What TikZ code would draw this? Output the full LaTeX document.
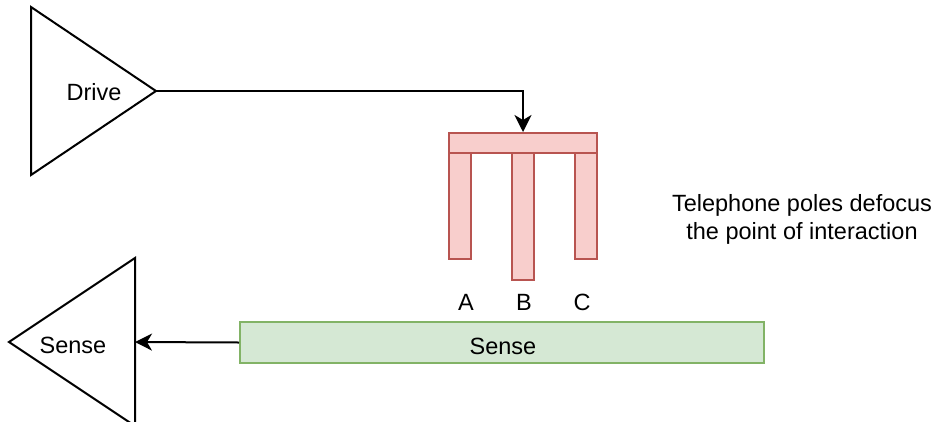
\documentclass[tikz,border=0pt]{standalone}
\usepackage{fontspec}
\setmainfont{Liberation Sans}
\usetikzlibrary{arrows.meta}
\definecolor{poleFill}{HTML}{F8CECC}
\definecolor{poleLine}{HTML}{B85450}
\definecolor{senseFill}{HTML}{D5E8D4}
\definecolor{senseLine}{HTML}{82B366}
\begin{document}
\begin{tikzpicture}[x=1pt,y=-1pt,
  font=\fontsize{23.5}{28}\selectfont,
  amp/.style={draw=black,line width=2pt,line join=miter},
  wire/.style={draw=black,line width=2pt,-{Stealth[length=17pt,width=17pt,inset=5pt]}},
  pole/.style={draw=poleLine,fill=poleFill,line width=2pt,inner sep=0pt},
  strip/.style={draw=senseLine,fill=senseFill,line width=2pt,inner sep=0pt},
  lbl/.style={inner sep=0pt,align=center}]
\useasboundingbox (0,0) rectangle (940,421);

% drive amplifier
\draw[amp] (31,7) -- (156,91) -- (31,175) -- cycle;
\coordinate (driveout) at (156,91);
\node[lbl] (drivetxt) at (94,92) {Drive};

% sense amplifier
\draw[amp] (135,258) -- (9,342) -- (135,426) -- cycle;
\coordinate (sensein) at (135,342);
\node[lbl] (sensetxt) at (73,345) {Sense};

% telephone-pole electrode
\node[pole,minimum width=22pt,minimum height=106pt] (poleA) at (460,206) {};
\node[pole,minimum width=22pt,minimum height=127pt] (poleB) at (523,216.5) {};
\node[pole,minimum width=22pt,minimum height=106pt] (poleC) at (586,206) {};
\node[pole,minimum width=148pt,minimum height=20pt] (bar) at (523,143) {};

\node[lbl] (labA) at (466,302) {A};
\node[lbl] (labB) at (524,302) {B};
\node[lbl] (labC) at (582,302) {C};

% sense strip
\node[strip,minimum width=524pt,minimum height=41pt] (strip) at (502,342.5) {};
\node[lbl] (striptxt) at (503,346) {Sense};

% note
\node[lbl] (note) at (802,219) {Telephone poles defocus\\the point of interaction};

% connections
\draw[wire] (driveout) -| (bar.north);
\draw[wire] (strip.west) -- (sensein);
\end{tikzpicture}
\end{document}
